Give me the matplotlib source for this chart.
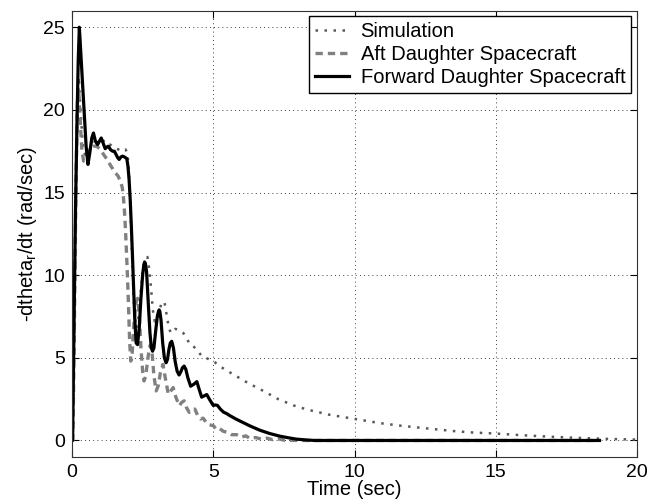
import matplotlib
matplotlib.use("Agg")
import matplotlib.pyplot as plt

plt.rcParams['font.family'] = ['Liberation Sans', 'DejaVu Sans']
plt.rcParams['mathtext.fontset'] = 'custom'
plt.rcParams['mathtext.rm'] = 'Liberation Sans'
plt.rcParams['mathtext.it'] = 'Liberation Sans'

# ---- data ----
fwd_t = [0, 0.02, 0.05, 0.09, 0.12, 0.18, 0.22, 0.26, 0.30, 0.35, 0.40, 0.45, 0.50, 0.565,
         0.63, 0.70, 0.76, 0.83, 0.905, 0.97, 1.035, 1.10, 1.175, 1.23, 1.29, 1.36, 1.435,
         1.50, 1.56, 1.62, 1.67, 1.73, 1.79, 1.86, 1.94, 1.98, 2.02, 2.06, 2.10, 2.14, 2.18,
         2.22, 2.27, 2.32, 2.38, 2.44, 2.50, 2.54, 2.57, 2.60, 2.64, 2.70, 2.76, 2.81, 2.85,
         2.90, 2.96, 3.02, 3.06, 3.085, 3.11, 3.15, 3.21, 3.27, 3.33, 3.38, 3.43, 3.48, 3.53,
         3.59, 3.65, 3.72, 3.79, 3.85, 3.91, 3.97, 4.03, 4.10, 4.20, 4.31, 4.42, 4.50, 4.59,
         4.68, 4.77, 4.88, 5.00, 5.08, 5.15, 5.25, 5.36, 5.48, 5.59, 5.8, 6.06, 6.3, 6.65,
         7.0, 7.36, 7.7, 7.95, 8.3, 8.6, 10, 12, 14, 16, 18, 18.67]
fwd_v = [0, 0, 4, 9.5, 13.6, 19.6, 23, 25, 23.8, 22.3, 20.8, 19.3, 17.8, 16.7,
         17.4, 18.3, 18.6, 18.1, 17.9, 18.1, 18.3, 18.0, 17.65, 17.75, 17.8, 17.6, 17.5,
         17.5, 17.3, 17.1, 17.0, 17.15, 17.2, 17.15, 17.05, 16.6, 15.8, 14.6, 13.0, 11.2, 9.3,
         7.4, 5.9, 5.8, 6.8, 8.6, 10.0, 10.6, 10.8, 10.7, 10.2, 8.3, 6.5, 5.6, 5.4,
         5.6, 6.6, 7.5, 7.8, 7.9, 7.8, 7.3, 5.9, 5.0, 4.7, 4.9, 5.5, 5.9, 6.0,
         5.6, 4.8, 4.2, 3.96, 4.15, 4.4, 4.5, 4.3, 3.8, 3.28, 3.4, 3.56, 3.1, 2.62,
         2.7, 2.78, 2.45, 2.12, 2.15, 2.12, 1.9, 1.72, 1.62, 1.5, 1.3, 1.08, 0.88, 0.62,
         0.42, 0.26, 0.15, 0.08, 0.03, 0, 0, 0, 0, 0, 0, 0]

aft_t = [0, 0.03, 0.07, 0.11, 0.15, 0.19, 0.22, 0.25, 0.30, 0.35, 0.41, 0.47, 0.55, 0.65,
         0.75, 0.88, 1.0, 1.12, 1.24, 1.38, 1.53, 1.63, 1.71, 1.78, 1.82, 1.86, 1.90, 1.95,
         2.0, 2.04, 2.08, 2.13, 2.19, 2.26, 2.32, 2.38, 2.44, 2.50, 2.55, 2.61, 2.68, 2.74,
         2.78, 2.84, 2.90, 2.98, 3.05, 3.13, 3.22, 3.30, 3.41, 3.50, 3.58, 3.68, 3.8, 3.88,
         3.97, 4.05, 4.15, 4.25, 4.35, 4.45, 4.55, 4.64, 4.75, 4.85, 5.0, 5.1, 5.2, 5.36,
         5.5, 5.65, 5.83, 6.0, 6.15, 6.3, 6.5, 6.7, 6.9, 7.1, 7.3, 7.5, 8.0, 10, 14, 18.6]
aft_v = [0, 0, 5, 11, 16.5, 20.3, 21.3, 20.8, 19.0, 17.6, 16.9, 17.0, 17.4, 17.7,
         17.8, 17.8, 17.6, 17.3, 17.0, 16.6, 16.2, 16.0, 15.7, 15.3, 14.7, 13.8, 12.5, 10.5,
         8.2, 6.0, 4.8, 5.3, 7.0, 8.3, 8.6, 7.6, 5.6, 4.2, 3.6, 3.9, 4.9, 5.6,
         5.8, 5.2, 3.9, 3.0, 3.3, 4.1, 4.6, 3.8, 2.8, 3.0, 3.2, 2.6, 2.1, 2.3,
         2.4, 2.0, 1.7, 1.85, 1.9, 1.5, 1.3, 1.35, 1.1, 0.95, 0.9, 0.7, 0.75, 0.55,
         0.5, 0.35, 0.35, 0.2, 0.28, 0.12, 0.18, 0.08, 0.14, 0.05, 0.1, 0.02, 0, 0, 0, 0]

sim_t = [0, 0.03, 0.07, 0.11, 0.15, 0.19, 0.24, 0.30, 0.40, 0.50, 0.60, 0.75, 0.90, 1.05,
         1.2, 1.35, 1.5, 1.65, 1.8, 1.9, 1.97, 2.02, 2.08, 2.14, 2.2, 2.27, 2.34, 2.42,
         2.52, 2.60, 2.67, 2.73, 2.80, 2.86, 2.93, 3.0, 3.08, 3.17, 3.27, 3.35, 3.43, 3.5,
         3.58, 3.66, 3.76, 3.85, 3.94, 4.05, 4.18, 4.3, 4.45, 4.6, 4.75, 4.9, 5.0, 5.2,
         5.4, 5.71, 6.1, 6.54, 6.77, 7.3, 7.95, 8.5, 9.13, 9.95, 10.9, 11.6, 12.5, 13.5,
         14.2, 15.0, 16, 17, 18, 18.67, 19.3, 19.8, 20]
sim_v = [0, 0, 5, 11, 16.5, 20.5, 22, 20, 17.5, 17.2, 17.6, 18.2, 18.0, 18.3,
         17.9, 17.9, 17.7, 17.6, 17.5, 17.6, 17.3, 16, 13.5, 10.5, 8.0, 6.8, 7.2, 8.8,
         10.5, 11.0, 11.1, 10.4, 9.2, 7.9, 7.2, 7.3, 7.8, 8.3, 8.4, 7.6, 6.8, 6.5,
         6.6, 6.75, 6.7, 6.6, 6.5, 6.2, 5.8, 5.7, 5.4, 5.1, 5.0, 4.85, 4.8, 4.55,
         4.3, 4.0, 3.6, 3.2, 3.0, 2.5, 2.05, 1.8, 1.55, 1.32, 1.05, 0.9, 0.74, 0.57,
         0.48, 0.42, 0.31, 0.22, 0.15, 0.11, 0.08, 0.06, 0.05]

x_ticks = [0, 5, 10, 15, 20]
y_ticks = [0, 5, 10, 15, 20, 25]
labels = ["Simulation", "Aft Daughter Spacecraft", "Forward Daughter Spacecraft"]

# ---- figure ----
fig = plt.figure(figsize=(6.63, 5.04), dpi=100)
ax = fig.add_axes([72/663, 47/504, (637-72)/663, (457-10.7)/504])

ax.plot(sim_t, sim_v, color='0.35', lw=1.8, linestyle=(0, (1, 2.6)), label=labels[0])
ax.plot(aft_t, aft_v, color='0.5', lw=2.4, linestyle=(0, (2.2, 1.5)), label=labels[1])
ax.plot(fwd_t, fwd_v, color='black', lw=2.3, label=labels[2])

ax.set_xlim(0, 20)
ax.set_ylim(-1, 26)
ax.set_xticks(x_ticks)
ax.set_yticks(y_ticks)
ax.grid(True, color='black', linestyle=(0, (1, 4)), linewidth=0.6)
ax.tick_params(direction='in', top=True, right=True, length=5, width=0.8,
               labelsize=14, pad=5)
for s in ax.spines.values():
    s.set_linewidth(0.8)
    s.set_color('#333333')

ax.set_xlabel("Time (sec)", fontsize=14.5, labelpad=-1)
ax.set_ylabel("-dtheta$_{\\mathrm{r}}$/dt (rad/sec)", fontsize=14.5, labelpad=3)

leg = ax.legend(loc='upper right', fontsize=14.5, fancybox=False, framealpha=1,
                edgecolor='black', handlelength=1.7, handletextpad=0.55,
                labelspacing=0.2, borderpad=0.3, borderaxespad=0.28)
leg.get_frame().set_linewidth(1.0)

fig.savefig("out.png", dpi=100)
